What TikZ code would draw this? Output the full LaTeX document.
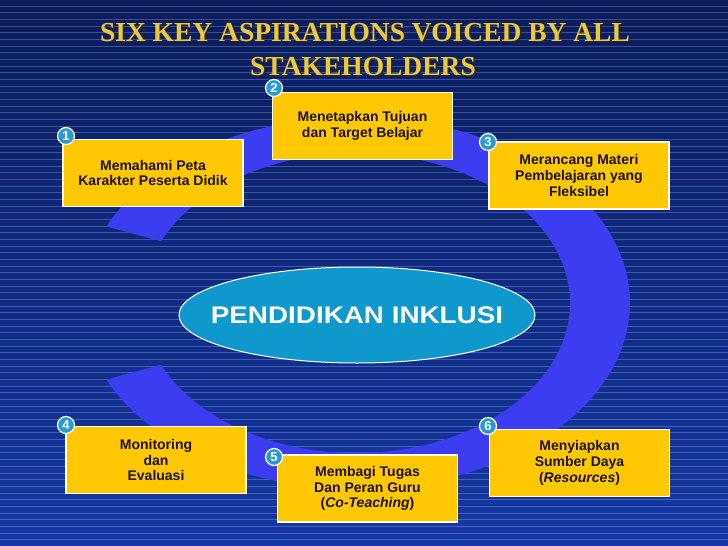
\documentclass[tikz,border=0pt]{standalone}
\usepackage{fontspec}
\usepackage{graphicx}
\setmainfont{Liberation Serif}
\setsansfont{Liberation Sans}
\usetikzlibrary{shapes.geometric}
\definecolor{bgtop}{HTML}{0A1C5C}
\definecolor{bgbot}{HTML}{1438A6}
\definecolor{ringblue}{HTML}{3C3CF0}
\definecolor{boxgold}{HTML}{FFC800}
\definecolor{ellblue}{HTML}{0E98CC}
\definecolor{numblue}{HTML}{2A9BD0}
\definecolor{titlegold}{HTML}{EEC83C}
\definecolor{boxtext}{HTML}{1E140A}
\begin{document}
\begin{tikzpicture}[x=1pt,y=-1pt,
  stepbox/.style={draw=white!90!yellow, line width=1.2pt, fill=boxgold,
    minimum width=180pt, minimum height=67pt, inner sep=0pt, align=center,
    text=boxtext, font=\sffamily\bfseries\fontsize{14}{15.8}\selectfont},
  numdot/.style={circle, fill=numblue, draw=white, line width=1.2pt,
    minimum size=17pt, inner sep=0pt, text=white,
    font=\sffamily\bfseries\fontsize{13}{13}\selectfont},
  titletext/.style={anchor=base, inner sep=0pt,
    font=\rmfamily\bfseries\fontsize{27.5}{30}\selectfont},
  stripe/.style={white, opacity=0.22, line width=0.8pt}]
\useasboundingbox (0,0) rectangle (728,546);
% background
\shade[top color=bgtop, bottom color=bgbot] (0,0) rectangle (728,546);
\foreach \i in {0,...,81} \draw[stripe] (0,{6+6.67*\i}) -- (728,{6+6.67*\i});
% ring
\fill[ringblue] plot[domain=204.3:515.7, samples=140, smooth] ({356+274*cos(\x)},{303+186*sin(\x)})
  -- plot[domain=515.7:204.3, samples=140, smooth] ({356+214*cos(\x)},{303+150*sin(\x)}) -- cycle;
% centre ellipse
\node[ellipse, fill=ellblue, draw=white, line width=1pt, minimum width=356pt,
  minimum height=96pt, inner sep=0pt] (center) at (357,315) {};
\node[text=white, inner sep=0pt,
  font=\sffamily\bfseries\fontsize{24}{24}\selectfont] (centertext) at (center)
  {\scalebox{1.16}[1]{PENDIDIKAN INKLUSI}};
% boxes
\node[stepbox] (b1) at (153,173) {Memahami Peta\\Karakter Peserta Didik};
\node[stepbox] (b2) at (362.5,126) {Menetapkan Tujuan\\ dan Target Belajar};
\node[stepbox] (b3) at (579,175.5) {Merancang Materi\\Pembelajaran yang\\Fleksibel};
\node[stepbox] (b4) at (156,460) {Monitoring\\dan\\Evaluasi};
\node[stepbox] (b5) at (367.5,488.5) {Membagi Tugas\\Dan Peran Guru\\(\textit{Co-Teaching})};
\node[stepbox] (b6) at (579.5,463) {Menyiapkan\\Sumber Daya\\(\textit{Resources})};
% numbers
\node[numdot] (n1) at (66,136) {1};
\node[numdot] (n2) at (274,88) {2};
\node[numdot] (n3) at (488,142) {3};
\node[numdot] (n4) at (66,425) {4};
\node[numdot] (n5) at (274,457) {5};
\node[numdot] (n6) at (488,426) {6};
% title
\node[titletext, text=black!85] (t1s) at (366.5,42.5) {SIX KEY ASPIRATIONS VOICED BY ALL};
\node[titletext, text=black!85] (t2s) at (364.5,76.5) {STAKEHOLDERS};
\node[titletext, text=titlegold] (t1) at (365,41) {SIX KEY ASPIRATIONS VOICED BY ALL};
\node[titletext, text=titlegold] (t2) at (363,75) {STAKEHOLDERS};
\end{tikzpicture}
\end{document}
